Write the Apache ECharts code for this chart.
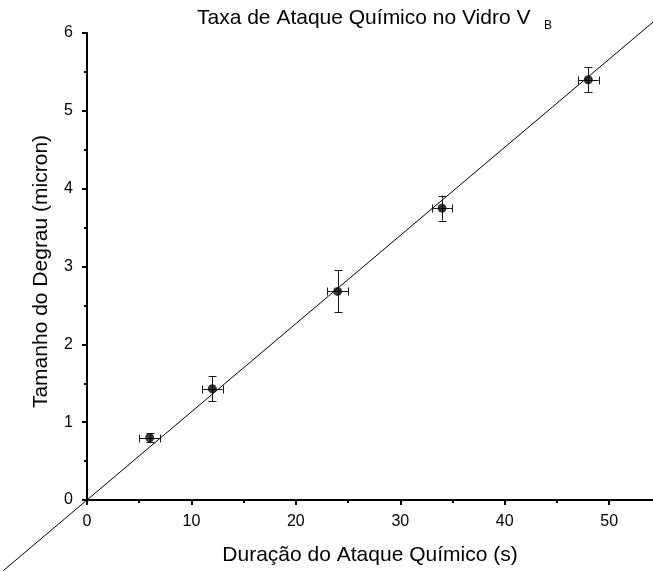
<!DOCTYPE html>
<html>
<head>
<meta charset="utf-8">
<script src="https://cdn.jsdelivr.net/npm/echarts@6/dist/echarts.min.js"></script>
<style>
  html, body { margin: 0; padding: 0; background: #fff; }
  #chart { width: 653px; height: 571px; }
</style>
</head>
<body>
<div id="chart"></div>
<script>
// Etch duration (s) and measured step height (micron), with uncertainties
const durations = [6, 12, 24, 34, 48];
const steps = [0.80, 1.43, 2.68, 3.75, 5.40];
const durationErr = [1, 1, 1, 1, 1];
const stepErr = [0.06, 0.16, 0.27, 0.16, 0.16];

// Linear fit, drawn across the whole frame (endpoints of the fitted line)
const fitX = [-8, 54.2];
const fitY = [-0.906, 6.14];

// Axis ticks
const xTicks = [0, 10, 20, 30, 40, 50];
const xMinorTicks = [5, 15, 25, 35, 45];
const yTicks = [0, 1, 2, 3, 4, 5, 6];

const FONT = 'Liberation Sans, Arial, Helvetica, sans-serif';

const points = durations.map((d, i) => [d, steps[i], durationErr[i], stepErr[i]]);
const fitSegment = [[fitX[0], fitY[0], fitX[1], fitY[1]]];

const chart = echarts.init(document.getElementById('chart'), null, { renderer: 'canvas' });

function crisp(v) { return Math.round(v) + 0.5; }

function renderErrorBars(params, api) {
  const x = api.value(0), y = api.value(1), ex = api.value(2), ey = api.value(3);
  const top = api.coord([x, y + ey]);
  const bot = api.coord([x, y - ey]);
  const lft = api.coord([x - ex, y]);
  const rgt = api.coord([x + ex, y]);
  const cx = crisp(top[0]);
  const cy = crisp(lft[1]);
  const cap = 4;
  const style = { stroke: '#1a1a1a', lineWidth: 1 };
  const line = (x1, y1, x2, y2) => ({ type: 'line', shape: { x1, y1, x2, y2 }, style });
  return {
    type: 'group',
    children: [
      line(cx, top[1], cx, bot[1]),
      line(cx - cap, crisp(top[1]), cx + cap, crisp(top[1])),
      line(cx - cap, crisp(bot[1]), cx + cap, crisp(bot[1])),
      line(lft[0], cy, rgt[0], cy),
      line(crisp(lft[0]), cy - cap, crisp(lft[0]), cy + cap),
      line(crisp(rgt[0]), cy - cap, crisp(rgt[0]), cy + cap)
    ]
  };
}

function renderFit(params, api) {
  const p1 = api.coord([api.value(0), api.value(1)]);
  const p2 = api.coord([api.value(2), api.value(3)]);
  return {
    type: 'line',
    shape: { x1: p1[0], y1: p1[1], x2: p2[0], y2: p2[1] },
    style: { stroke: '#000', lineWidth: 1 }
  };
}

const axisLineStyle = { color: '#000', width: 2 };

chart.setOption({
  animation: false,
  backgroundColor: '#fff',
  title: [
    {
      text: 'Taxa de Ataque Químico no Vidro V',
      left: 197,
      top: 8,
      padding: 0,
      textStyle: { fontFamily: FONT, fontSize: 21, fontWeight: 'normal', color: '#000' }
    },
    {
      text: 'B',
      left: 544,
      top: 20,
      padding: 0,
      textStyle: { fontFamily: FONT, fontSize: 12, fontWeight: 'normal', color: '#000' }
    }
  ],
  grid: { left: 87, top: 33, right: 0, bottom: 71, containLabel: false },
  xAxis: [
    {
      type: 'value',
      min: 0,
      max: 54.2,
      name: 'Duração do Ataque Químico (s)',
      nameLocation: 'middle',
      nameGap: 45,
      nameTextStyle: { fontFamily: FONT, fontSize: 21, color: '#000' },
      axisLine: { show: true, onZero: false, lineStyle: axisLineStyle },
      axisTick: { show: true, customValues: xTicks, length: 5, lineStyle: { color: '#000', width: 2 } },
      axisLabel: { customValues: xTicks, margin: 14, fontFamily: FONT, fontSize: 16, color: '#000' },
      splitLine: { show: false }
    },
    {
      type: 'value',
      min: 0,
      max: 54.2,
      position: 'bottom',
      axisLine: { show: false },
      axisTick: { show: true, customValues: xMinorTicks, length: 3, lineStyle: { color: '#000', width: 2 } },
      axisLabel: { show: false },
      splitLine: { show: false }
    }
  ],
  yAxis: {
    type: 'value',
    min: 0,
    max: 6,
    interval: 1,
    name: 'Tamanho do Degrau (micron)',
    nameLocation: 'middle',
    nameGap: 35,
    nameTextStyle: { fontFamily: FONT, fontSize: 21, color: '#000', padding: [0, 10, 0, 0] },
    axisLine: { show: true, onZero: false, lineStyle: axisLineStyle },
    axisTick: { show: true, length: 5, lineStyle: { color: '#000', width: 2 } },
    minorTick: { show: true, splitNumber: 2, length: 3, lineStyle: { color: '#000', width: 2 } },
    axisLabel: {
      margin: 14, fontFamily: FONT, fontSize: 16, color: '#000',
      formatter: v => (yTicks.includes(v) ? String(v) : '')
    },
    splitLine: { show: false }
  },
  series: [
    {
      name: 'Ajuste linear',
      type: 'custom',
      data: fitSegment,
      renderItem: renderFit,
      clip: false,
      silent: true,
      z: 1
    },
    {
      name: 'Barras de erro',
      type: 'custom',
      data: points,
      renderItem: renderErrorBars,
      clip: false,
      z: 2
    },
    {
      name: 'Medidas',
      type: 'scatter',
      data: points.map(p => [p[0], p[1]]),
      symbol: 'circle',
      symbolSize: 9,
      itemStyle: { color: '#000' },
      z: 3
    }
  ]
});
</script>
</body>
</html>
